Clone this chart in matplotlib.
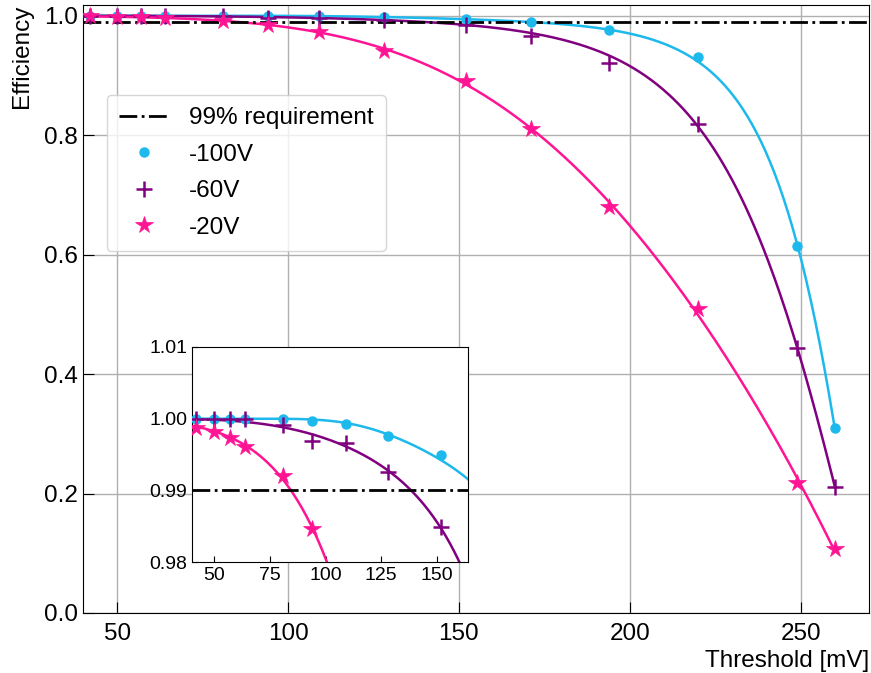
import matplotlib

matplotlib.use("Agg")

import matplotlib.pyplot as plt
import numpy as np

plt.rcParams["font.family"] = ["Liberation Sans", "DejaVu Sans"]

# thresholds in mV
threshold = np.array([42, 50, 57, 64, 81, 94, 109, 128, 152, 171, 194, 220, 249, 260])

eff_100v = np.array([1.0000, 1.0000, 1.0000, 1.0000, 0.99995, 0.99967, 0.99921,
                     0.99757, 0.99491, 0.9890, 0.9760, 0.9310, 0.6150, 0.3090])
eff_60v = np.array([1.0000, 1.0000, 1.0000, 0.99995, 0.99907, 0.99687, 0.99654,
                    0.99257, 0.98495, 0.9655, 0.9216, 0.8186, 0.4434, 0.2117])
eff_20v = np.array([0.99874, 0.99813, 0.99729, 0.99603, 0.99196, 0.98467, 0.9727,
                    0.9409, 0.8910, 0.8100, 0.6800, 0.5085, 0.2184, 0.1067])

requirement = 0.99

series = [
    ("-100V", eff_100v, "#1DB9EC", "o", 6.5, 1.0),
    ("-60V", eff_60v, "#800080", "+", 12, 1.8),
    ("-20V", eff_20v, "#FF1493", "*", 13, 0.5),
]


def fit_curve(x, eff, x_eval, deg=4):
    """eff = 1 - exp(poly(x)), least squares in efficiency (Levenberg-Marquardt)."""
    xs = (x - 150.0) / 100.0
    sigma = np.where(eff > 0.98, 1.5e-4, 1.7e-3)
    ineff = np.clip(1 - eff, 1e-4, None)
    coef = np.polyfit(xs, np.log(ineff), deg, w=np.maximum(ineff / sigma, 0.5))
    V = np.vander(xs, deg + 1)

    def model(c):
        return np.exp(np.clip(np.polyval(c, xs), -50, 3))

    def cost(c):
        return np.sum(((eff - 1 + model(c)) / sigma) ** 2)

    lam = 1e-3
    for _ in range(400):
        m = model(coef)
        r = (eff - 1 + m) / sigma
        J = m[:, None] * V / sigma[:, None]
        A = J.T @ J
        step = np.linalg.solve(A + lam * np.diag(np.diag(A) + 1e-12), -J.T @ r)
        new = coef + step
        if np.isfinite(cost(new)) and cost(new) < cost(coef):
            coef = new
            lam *= 0.3
        else:
            lam *= 10
    return 1 - np.exp(np.polyval(coef, (x_eval - 150.0) / 100.0))


fig = plt.figure(figsize=(8.71, 6.73), dpi=100)
ax = fig.add_axes([0.0953, 0.0892, 0.9024, 0.9034])

x_fit = np.linspace(40, 260, 500)

ax.axhline(requirement, color="black", linestyle="-.", linewidth=2,
           label="99% requirement", zorder=2.5)
for name, eff, color, marker, ms, mew in series:
    ax.plot(threshold, eff, linestyle="none", marker=marker, color=color,
            markersize=ms, markeredgewidth=mew, label=name, zorder=3)
    ax.plot(x_fit, fit_curve(threshold, eff, x_fit), color=color,
            linewidth=1.8, zorder=2)

ax.set_xlim(40, 270)
ax.set_ylim(0, 1.018)
ax.set_xticks([50, 100, 150, 200, 250])
ax.set_yticks([0.0, 0.2, 0.4, 0.6, 0.8, 1.0])
ax.grid(True, color="#b0b0b0", linewidth=1)
ax.tick_params(direction="in", length=8, labelsize=17.5)
ax.tick_params(axis="x", pad=7)
ax.set_xlabel("Threshold [mV]", fontsize=17.5, loc="right", labelpad=4)
ax.set_ylabel("Efficiency", fontsize=17.5, loc="top")
ax.yaxis.set_label_coords(-0.063, 1.0)

ax.legend(loc="upper left", bbox_to_anchor=(0.03, 0.852), borderaxespad=0,
          fontsize=17.5, handlelength=2.1, labelspacing=0.6, borderpad=0.5,
          framealpha=0.8)

# zoomed inset
axin = fig.add_axes([0.2204, 0.1649, 0.3169, 0.3195])
axin.axhline(requirement, color="black", linestyle="-.", linewidth=2, zorder=2.5)
x_fit_in = np.linspace(40, 165, 400)
for name, eff, color, marker, ms, mew in series:
    axin.plot(threshold, eff, linestyle="none", marker=marker, color=color,
              markersize=ms, markeredgewidth=mew, zorder=3)
    axin.plot(x_fit_in, fit_curve(threshold, eff, x_fit_in), color=color,
              linewidth=1.8, zorder=2)
axin.set_xlim(40, 164)
axin.set_ylim(0.98, 1.01)
axin.set_xticks([50, 75, 100, 125, 150])
axin.set_yticks([0.98, 0.99, 1.00, 1.01])
axin.tick_params(direction="in", length=4, labelsize=14)

fig.savefig("out.png", dpi=100)
plt.close(fig)
